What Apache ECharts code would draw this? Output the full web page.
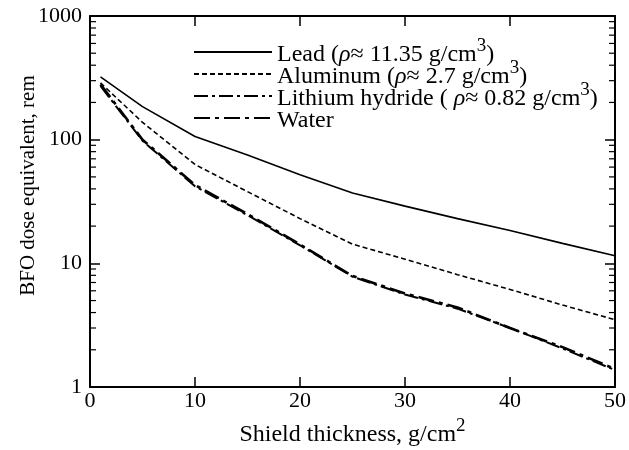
<!DOCTYPE html>
<html><head><meta charset="utf-8">
<script src="https://cdn.jsdelivr.net/npm/echarts@6/dist/echarts.min.js"></script>
<style>html,body{margin:0;padding:0;background:#fff}#c{width:629px;height:450px}</style>
</head><body><div id="c"></div>
<script>
const xs = [1, 5, 10, 15, 20, 25, 30, 35, 40, 45, 50];
const lead = [322, 185, 106, 75, 52, 37, 29, 23, 18.4, 14.5, 11.5];
const aluminum = [288, 138, 63, 38, 23, 14.3, 10.8, 8.1, 6.15, 4.6, 3.5];
const lithium = [272, 98, 42, 24.5, 14, 7.8, 5.6, 4.3, 3.0, 2.05, 1.37];
const water = [280, 100, 43, 25, 14.2, 7.9, 5.7, 4.4, 3.0, 2.1, 1.4];
const xTicks = [0, 10, 20, 30, 40, 50];
const yTicks = [1, 10, 100, 1000];
const seriesNames = ['Lead', 'Aluminum', 'Lithium hydride', 'Water'];
const legendTexts = {
  'Lead': '{t|Lead (}{it|ρ}{t|≈ 11.35 g/cm}{sup|3}{t|)}',
  'Aluminum': '{t|Aluminum (}{it|ρ}{t|≈ 2.7 g/cm}{sup|3}{t|)}',
  'Lithium hydride': '{t|Lithium hydride ( }{it|ρ}{t|≈ 0.82 g/cm}{sup|3}{t|)}',
  'Water': '{t|Water}'
};
const FONT = '"Liberation Serif", "Times New Roman", serif';
const pairs = v => xs.map((x, i) => [x, v[i]]);
const chart = echarts.init(document.getElementById('c'), null, {renderer: 'canvas'});
const baseText = {fontFamily: FONT, fontSize: 24, color: '#000', verticalAlign: 'bottom', lineHeight: 30};
const supText = {fontFamily: FONT, fontSize: 19, color: '#000', verticalAlign: 'top', lineHeight: 4};
const mk = (name, data, type, width) => ({
  name, type: 'line', data: pairs(data), symbol: 'none', showSymbol: false, smooth: false,
  lineStyle: {color: '#000', width, type}, itemStyle: {color: '#000'}, animation: false
});
chart.setOption({
  animation: false,
  backgroundColor: '#fff',
  grid: {left: 90, right: 14, top: 16, bottom: 63, containLabel: false, outerBoundsMode: 'none'},
  legend: {
    orient: 'vertical', left: 188, top: 32, itemWidth: 78, itemHeight: 12, itemGap: -8,
    data: seriesNames,
    formatter: n => legendTexts[n],
    itemStyle: {opacity: 0},
    lineStyle: {inherit: true, opacity: 1},
    textStyle: Object.assign({}, baseText, {
      padding: [0, 0, 0, 0],
      rich: {
        t: baseText,
        it: Object.assign({}, baseText, {fontStyle: 'italic'}),
        sup: supText
      }
    })
  },
  xAxis: [{
    type: 'value', min: 0, max: 50, interval: 10, position: 'bottom',
    name: '{t|Shield thickness, g/cm}{sup|2}', nameLocation: 'middle', nameGap: 52,
    nameTextStyle: Object.assign({}, baseText, {rich: {t: baseText, sup: supText}}),
    axisLine: {show: true, onZero: false, lineStyle: {color: '#000', width: 2}},
    axisTick: {show: true, inside: true, length: 10, lineStyle: {color: '#000', width: 1.5}},
    axisLabel: {fontFamily: FONT, fontSize: 22, color: '#000', margin: 3,
      formatter: v => xTicks.includes(v) ? String(v) : ''},
    splitLine: {show: false}
  }, {
    type: 'value', min: 0, max: 50, interval: 10, position: 'top',
    axisLine: {show: true, onZero: false, lineStyle: {color: '#000', width: 2}},
    axisTick: {show: true, inside: true, length: 10, lineStyle: {color: '#000', width: 1.5}},
    axisLabel: {show: false}, splitLine: {show: false}
  }],
  yAxis: [{
    type: 'log', min: 1, max: 1000, logBase: 10, position: 'left',
    name: 'BFO dose equivalent, rem', nameLocation: 'middle', nameGap: 51, nameRotate: 90,
    nameMoveOverlap: false,
    nameTextStyle: {fontFamily: FONT, fontSize: 21, color: '#000', padding: [0, 0, 0, 32]},
    axisLine: {show: true, onZero: false, lineStyle: {color: '#000', width: 2}},
    axisTick: {show: true, inside: true, length: 10, lineStyle: {color: '#000', width: 1.5}},
    axisLabel: {fontFamily: FONT, fontSize: 22, color: '#000', margin: 8,
      formatter: v => {
        const r = yTicks.find(t => Math.abs(t - v) / t < 1e-6);
        return r ? String(r) : '';
      }},
    splitLine: {show: false}
  }, {
    type: 'log', min: 1, max: 1000, logBase: 10, position: 'right',
    axisLine: {show: true, onZero: false, lineStyle: {color: '#000', width: 2}},
    axisTick: {show: true, inside: true, length: 10, lineStyle: {color: '#000', width: 1.5}},
    axisLabel: {show: false}, splitLine: {show: false}
  }],
  series: [
    mk('Lead', lead, 'solid', 1.6),
    mk('Aluminum', aluminum, [5, 3], 1.6),
    mk('Lithium hydride', lithium, [14, 4, 3, 4], 2),
    mk('Water', water, [16, 5, 4, 5], 2.6)
  ]
});
// minor log ticks computed via the axis scale
const minor = [];
for (let d = 1; d < 1000; d *= 10) {
  for (let k = 2; k <= 9; k++) minor.push(d * k);
}
const gridRect = chart.getModel().getComponent('grid').coordinateSystem.getRect();
const els = [];
minor.forEach(v => {
  const y = chart.convertToPixel({xAxisIndex: 0, yAxisIndex: 0}, [0, v])[1];
  els.push({type: 'line', shape: {x1: gridRect.x, y1: y, x2: gridRect.x + 6, y2: y}, style: {stroke: '#000', lineWidth: 1.2}, silent: true});
  els.push({type: 'line', shape: {x1: gridRect.x + gridRect.width - 6, y1: y, x2: gridRect.x + gridRect.width, y2: y}, style: {stroke: '#000', lineWidth: 1.2}, silent: true});
});
chart.setOption({graphic: {elements: els}});
</script>
</body></html>
